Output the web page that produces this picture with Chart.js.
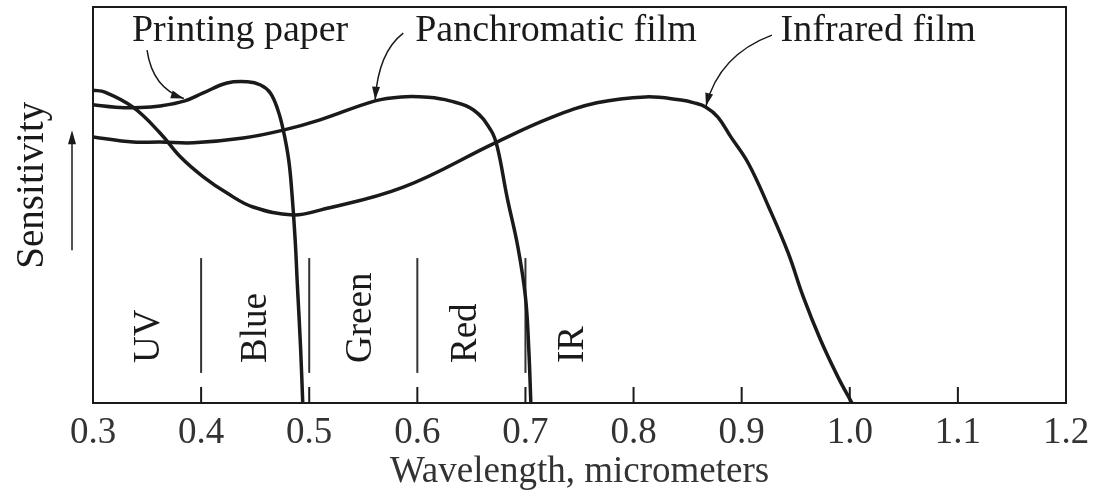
<!DOCTYPE html>
<html>
<head>
<meta charset="utf-8">
<style>
  html, body { margin: 0; padding: 0; background: #fff; }
  #wrap { width: 1099px; height: 493px; }
</style>
<script src="https://cdn.jsdelivr.net/npm/chart.js@4.4.1/dist/chart.umd.min.js"></script>
</head>
<body>
<div id="wrap"><canvas id="sensChart"></canvas></div>
<script>
// wavelength (micrometers) and relative sensitivity
const xTicks = [0.3, 0.4, 0.5, 0.6, 0.7, 0.8, 0.9, 1.0, 1.1, 1.2];

const paperX = [0.300, 0.321, 0.344, 0.362, 0.385, 0.402, 0.424, 0.443, 0.455, 0.464, 0.471, 0.476, 0.481, 0.484, 0.487, 0.489, 0.492, 0.494];
const paperY = [75.3, 74.7, 74.6, 75.0, 76.3, 78.3, 80.8, 81.1, 80.3, 78.3, 74.0, 68.9, 61.4, 53.0, 41.2, 30.0, 14.0, 0];

const panX = [0.300, 0.337, 0.362, 0.393, 0.439, 0.476, 0.510, 0.561, 0.585, 0.610, 0.630, 0.652, 0.668, 0.674, 0.683, 0.693, 0.700, 0.703, 0.705];
const panY = [67.2, 65.9, 65.9, 65.7, 66.9, 68.9, 71.5, 76.3, 77.3, 77.2, 76.3, 74.0, 68.9, 64.6, 52.0, 39.4, 26.8, 14.1, 0];

const irX = [0.300, 0.311, 0.337, 0.362, 0.381, 0.402, 0.424, 0.448, 0.485, 0.510, 0.587, 0.672, 0.723, 0.766, 0.811, 0.844, 0.856, 0.867, 0.878, 0.890, 0.906, 0.925, 0.943, 0.957, 0.973, 0.989, 1.002];
const irY = [79.0, 78.5, 74.7, 68.2, 62.1, 57.1, 53.0, 49.5, 47.5, 48.7, 54.5, 65.7, 72.0, 75.8, 77.3, 76.5, 75.8, 74.7, 72.2, 67.2, 60.6, 49.5, 37.9, 26.8, 15.9, 6.6, 0];

// band borders and names
const bandEdges = [0.4, 0.5, 0.6, 0.7];
const bandNames = ['UV', 'Blue', 'Green', 'Red', 'IR'];
const curveNames = ['Printing paper', 'Panchromatic film', 'Infrared film'];

const ink = '#1a1a1a';
const serif = "'Liberation Serif', 'DejaVu Serif', serif";

function pts(xs, ys) {
  return xs.map((v, i) => ({ x: v, y: ys[i] }));
}

function curve(name, xs, ys) {
  return {
    label: name,
    data: pts(xs, ys),
    borderColor: ink,
    borderWidth: 3.5,
    pointRadius: 0,
    fill: false,
    tension: 0.4
  };
}

// divider lines between bands
const dividerSets = bandEdges.map(e => ({
  label: 'edge ' + e,
  data: [{ x: e, y: 7.6 }, { x: e, y: 36.6 }],
  borderColor: '#333',
  borderWidth: 2,
  pointRadius: 0,
  tension: 0
}));

// label / arrow placement, in data units
const bandLabelX = [0.352, 0.451, 0.548, 0.645, 0.744];
const nameAt = [[0.336, 91.4], [0.598, 91.4], [0.936, 91.4]];
const arrows = [
  [[0.350, 89.1], [0.355, 79.5], [0.384, 76.9]],
  [[0.587, 93.4], [0.564, 88.6], [0.561, 76.6]],
  [[0.928, 92.9], [0.879, 87.9], [0.867, 75.0]]
];

const sketch = {
  id: 'sketch',
  afterDatasetsDraw(chart) {
    const { ctx, chartArea: a, scales: { x, y } } = chart;
    const P = (p) => [x.getPixelForValue(p[0]), y.getPixelForValue(p[1])];
    ctx.save();
    ctx.strokeStyle = ink;
    ctx.fillStyle = ink;

    // frame
    ctx.lineWidth = 2;
    ctx.strokeRect(a.left, a.top, a.right - a.left, a.bottom - a.top);

    // inside ticks
    xTicks.forEach(v => {
      const px = x.getPixelForValue(v);
      ctx.beginPath();
      ctx.moveTo(px, a.bottom);
      ctx.lineTo(px, a.bottom - 16);
      ctx.stroke();
    });

    // band names, rotated
    ctx.font = '37px ' + serif;
    ctx.textBaseline = 'middle';
    ctx.textAlign = 'left';
    bandNames.forEach((n, i) => {
      ctx.save();
      ctx.translate(x.getPixelForValue(bandLabelX[i]), y.getPixelForValue(10.1));
      ctx.rotate(-Math.PI / 2);
      ctx.fillText(n, 0, 0);
      ctx.restore();
    });

    // curve names
    ctx.font = '38px ' + serif;
    ctx.textBaseline = 'alphabetic';
    curveNames.forEach((n, i) => {
      const [px, py] = P(nameAt[i]);
      ctx.fillText(n, px, py);
    });

    // arrows to curves
    ctx.lineWidth = 1.5;
    arrows.forEach(ar => {
      const [s, c, t] = ar.map(P);
      ctx.beginPath();
      ctx.moveTo(s[0], s[1]);
      ctx.quadraticCurveTo(c[0], c[1], t[0], t[1]);
      ctx.stroke();
      const ang = Math.atan2(t[1] - c[1], t[0] - c[0]);
      ctx.beginPath();
      ctx.moveTo(t[0], t[1]);
      ctx.lineTo(t[0] - 13 * Math.cos(ang) + 4 * Math.sin(ang), t[1] - 13 * Math.sin(ang) - 4 * Math.cos(ang));
      ctx.lineTo(t[0] - 13 * Math.cos(ang) - 4 * Math.sin(ang), t[1] - 13 * Math.sin(ang) + 4 * Math.cos(ang));
      ctx.closePath();
      ctx.fill();
    });

    // y title with arrow
    ctx.font = '39px ' + serif;
    ctx.textAlign = 'center';
    ctx.textBaseline = 'middle';
    ctx.save();
    ctx.translate(a.left - 60, y.getPixelForValue(55));
    ctx.rotate(-Math.PI / 2);
    ctx.fillText('Sensitivity', 0, 0);
    ctx.restore();

    const ax = a.left - 21;
    const y0 = y.getPixelForValue(38.6), y1 = y.getPixelForValue(68.9);
    ctx.lineWidth = 1.5;
    ctx.beginPath();
    ctx.moveTo(ax, y0);
    ctx.lineTo(ax, y1 + 10);
    ctx.stroke();
    ctx.beginPath();
    ctx.moveTo(ax, y1);
    ctx.lineTo(ax - 4, y1 + 14);
    ctx.lineTo(ax + 4, y1 + 14);
    ctx.closePath();
    ctx.fill();

    ctx.restore();
  }
};

const ctx = document.getElementById('sensChart').getContext('2d');
const sensChart = new Chart(ctx, {
  type: 'line',
  data: {
    datasets: [
      curve(curveNames[0], paperX, paperY),
      curve(curveNames[1], panX, panY),
      curve(curveNames[2], irX, irY),
      ...dividerSets
    ]
  },
  options: {
    responsive: true,
    maintainAspectRatio: false,
    animation: false,
    layout: { padding: { left: 93, right: 33, top: 7, bottom: 0 } },
    plugins: {
      legend: { display: false },
      tooltip: { enabled: false }
    },
    scales: {
      x: {
        type: 'linear',
        min: 0.3,
        max: 1.2,
        afterBuildTicks: s => { s.ticks = xTicks.map(v => ({ value: v })); },
        afterFit: s => { s.height = 90; },
        grid: { display: false, drawTicks: false },
        border: { display: false },
        ticks: {
          color: '#333',
          padding: 8,
          font: { family: serif, size: 37 },
          callback: v => Number(v).toFixed(1)
        },
        title: {
          display: true,
          text: 'Wavelength, micrometers',
          color: '#333',
          font: { family: serif, size: 37 },
          padding: { top: 0, bottom: -1 }
        }
      },
      y: {
        display: false,
        min: 0,
        max: 100
      }
    }
  },
  plugins: [sketch]
});
</script>
</body>
</html>
